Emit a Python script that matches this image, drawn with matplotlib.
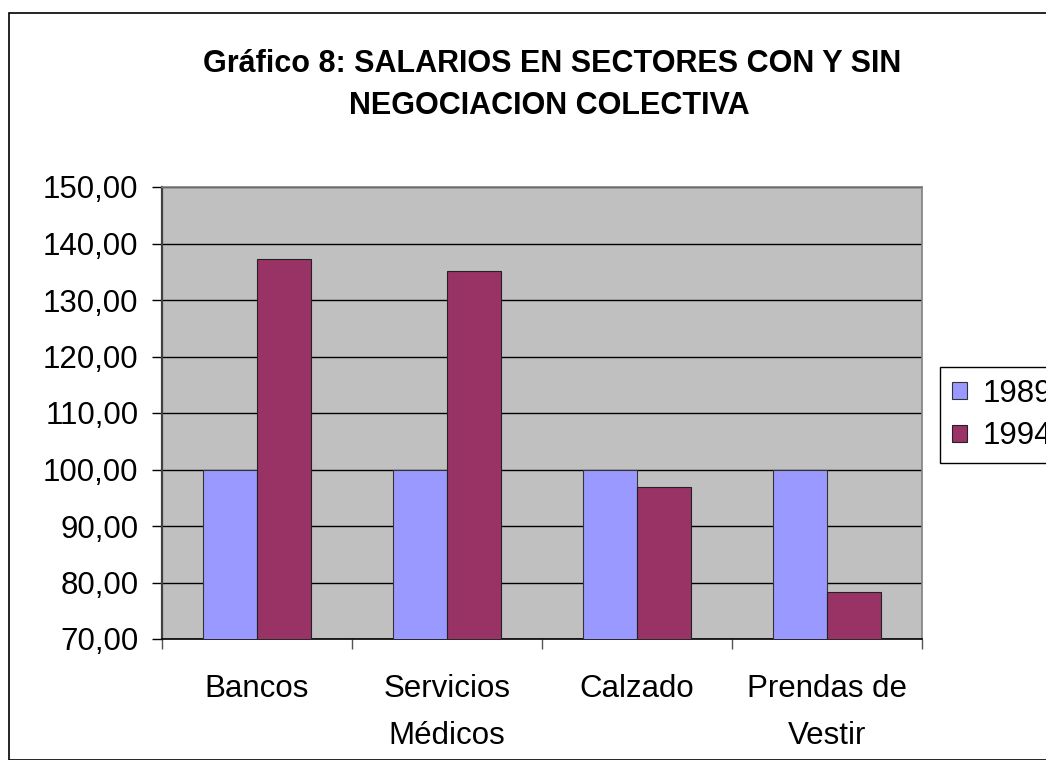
import matplotlib
matplotlib.use("Agg")
import matplotlib.pyplot as plt
from matplotlib.patches import Rectangle
from matplotlib.ticker import FuncFormatter, FixedLocator
import numpy as np

plt.rcParams['font.family'] = ['Liberation Sans', 'DejaVu Sans']

categories = ["Bancos", "Servicios\nMédicos", "Calzado", "Prendas de\nVestir"]
series_names = ["1989", "1994"]
values_1989 = [100.0, 100.0, 100.0, 100.0]
values_1994 = [137.3, 135.1, 96.9, 78.4]
title_lines = ["Gráfico 8: SALARIOS EN SECTORES CON Y SIN", "NEGOCIACION COLECTIVA"]

W, H = 1046, 760
fig = plt.figure(figsize=(W / 100, H / 100), dpi=100)
fig.patch.set_facecolor("white")

# figure border
fig.patches.append(Rectangle((9 / W, 0), 1.2, 1 - 13 / H, transform=fig.transFigure,
                             fill=False, edgecolor="black", linewidth=1.2))

ax = fig.add_axes([162 / W, 1 - 639 / H, (922 - 162) / W, (639 - 187) / H])
ax.set_facecolor("#C0C0C0")

x = np.arange(len(categories))
bw = 0.284
ax.bar(x - bw / 2, values_1989, width=bw, color="#9999FF",
       edgecolor="#333333", linewidth=0.8, label=series_names[0], zorder=3)
ax.bar(x + bw / 2, values_1994, width=bw, color="#993366",
       edgecolor="#222222", linewidth=0.8, label=series_names[1], zorder=3)

ax.set_ylim(70, 150)
ax.set_xlim(-0.5, len(categories) - 0.5)
ax.set_yticks(np.arange(70, 151, 10))
ax.yaxis.set_major_formatter(FuncFormatter(lambda v, p: f"{v:.2f}".replace(".", ",")))
ax.yaxis.grid(True, color="black", linewidth=1.0, zorder=1)
ax.set_axisbelow(True)

ax.xaxis.set_major_locator(FixedLocator(np.arange(-0.5, len(categories), 1.0)))
ax.xaxis.set_major_formatter(FuncFormatter(lambda v, p: ""))
ax.xaxis.set_minor_locator(FixedLocator(x))
ax.set_xticklabels(categories, minor=True)
ax.tick_params(axis="x", which="major", length=7, width=1, color="#555555", direction="out")
ax.tick_params(axis="x", which="minor", length=0, pad=25.5, labelsize=22.5)
for t in ax.get_xticklabels(minor=True):
    t.set_linespacing(1.7)
    t.set_verticalalignment("top")
ax.tick_params(axis="y", length=7, width=1, color="black", direction="out",
               pad=10, labelsize=22.5)

ax.spines["left"].set_color("#404040")
ax.spines["left"].set_linewidth(1.6)
ax.spines["bottom"].set_color("black")
ax.spines["bottom"].set_linewidth(1.2)
ax.spines["top"].set_color("#808080")
ax.spines["right"].set_color("#808080")
ax.spines["top"].set_linewidth(1.2)
ax.spines["right"].set_linewidth(1.2)

fig.text(552 / W, 1 - 63.5 / H, title_lines[0], ha="center", va="center",
         fontsize=22, fontweight="bold")
fig.text(549 / W, 1 - 106.5 / H, title_lines[1], ha="center", va="center",
         fontsize=22, fontweight="bold")

leg = ax.legend(loc="upper left", bbox_to_anchor=(940 / W, 1 - 367 / H),
                bbox_transform=fig.transFigure, fontsize=22.5, frameon=True,
                fancybox=False, edgecolor="black", framealpha=1,
                handlelength=0.48, handleheight=0.48, handletextpad=0.5,
                labelspacing=0.4, borderpad=0.38, borderaxespad=0)
leg.get_frame().set_linewidth(1.0)

fig.savefig("out.png", dpi=100)
